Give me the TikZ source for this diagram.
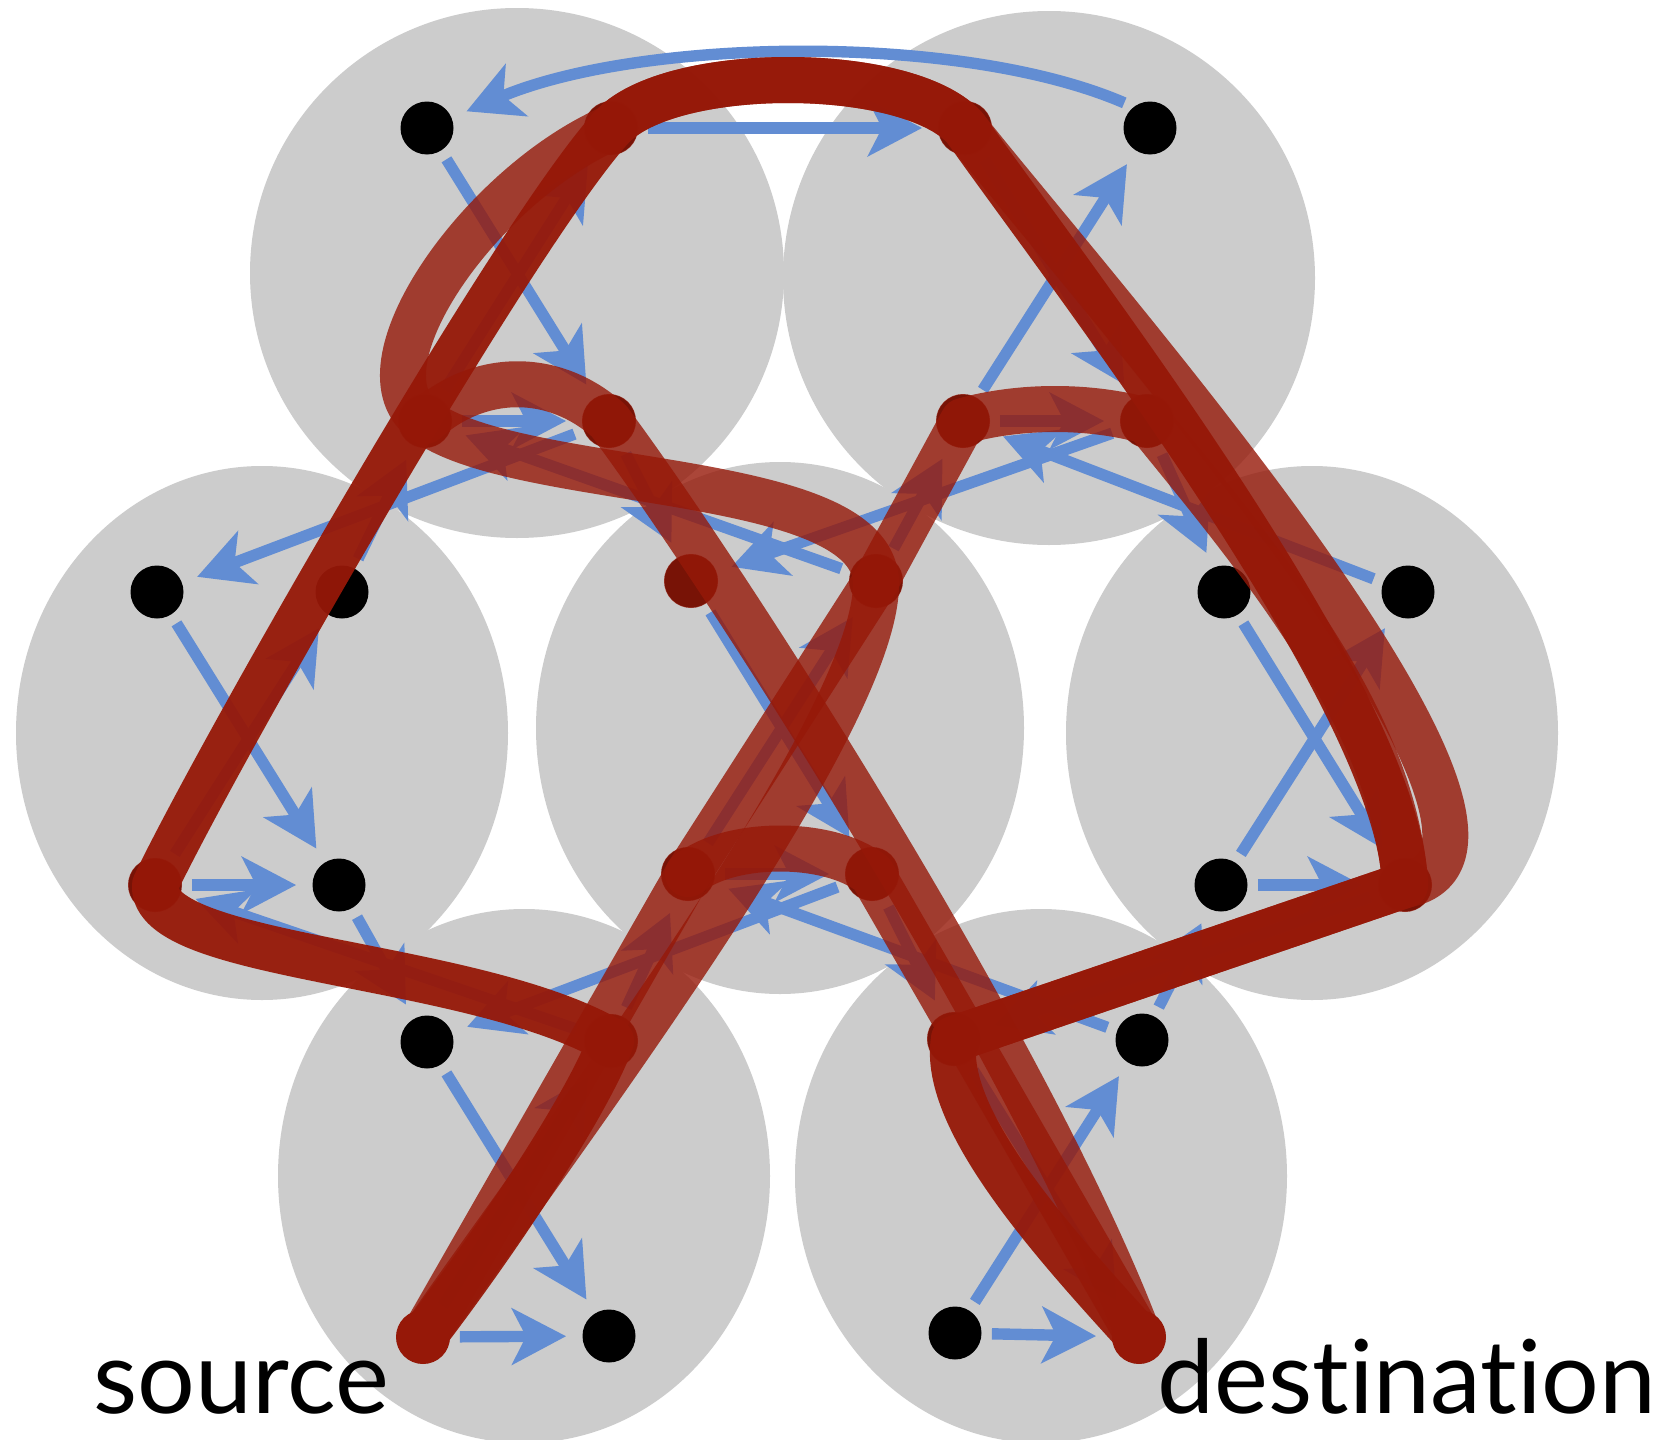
\documentclass[tikz,border=0pt]{standalone}
\usepackage{fontspec}
\setmainfont{Lato}[Ligatures=NoCommon]
\usetikzlibrary{arrows.meta}
\definecolor{cellgray}{RGB}{204,204,204}
\definecolor{linkblue}{RGB}{98,141,211}
\definecolor{routered}{RGB}{150,24,8}
\begin{document}
\begin{tikzpicture}[x=0.5pt,y=-0.5pt,
  cell/.style={fill=cellgray},
  dot/.style={circle,fill=black,inner sep=0pt,minimum size=26.5pt},
  link/.style={draw=linkblue,line width=5.7pt,shorten <=5pt,shorten >=8pt,
    -{Stealth[length=27pt,width=28pt,inset=7pt]}},
  route/.style={draw=routered,line width=23pt,line cap=round,line join=round},
  heavy/.style={route,opacity=0.95},
  light/.style={route,opacity=0.8},
  hop/.style={fill=routered,opacity=0.8},
  endpt/.style={fill=routered},
  word/.style={font=\fontsize{51pt}{51pt}\selectfont,anchor=base west,inner sep=0pt}
]
\useasboundingbox (0,0) rectangle (1662,1440);
\fill[white] (0,0) rectangle (1662,1440);

% switch cells
\fill[cell] (517,273)  ellipse [x radius=133.5pt, y radius=132.5pt];
\fill[cell] (1049,278) ellipse [x radius=133pt, y radius=133.5pt];
\fill[cell] (262,733)  ellipse [x radius=123pt, y radius=133.5pt];
\fill[cell] (780,728)  ellipse [x radius=122pt, y radius=133pt];
\fill[cell] (1312,733) ellipse [x radius=123pt, y radius=133.5pt];
\fill[cell] (524,1176) ellipse [x radius=123pt, y radius=133.5pt];
\fill[cell] (1041,1176) ellipse [x radius=123pt, y radius=133.5pt];

% ports: 1 = top left, 2 = top right, 3 = bottom left, 4 = bottom right
\node[dot] (a1) at (427,128) {};  \node[dot] (a2) at (611,128) {};
\node[dot] (a3) at (425,421) {};  \node[dot] (a4) at (609,421) {};
\node[dot] (b1) at (965,128) {};  \node[dot] (b2) at (1150,128) {};
\node[dot] (b3) at (963,421) {};  \node[dot] (b4) at (1147,421) {};
\node[dot] (c1) at (157,592) {};  \node[dot] (c2) at (342,592) {};
\node[dot] (c3) at (155,885) {};  \node[dot] (c4) at (339,885) {};
\node[dot] (d1) at (691,581) {};  \node[dot] (d2) at (876,581) {};
\node[dot] (d3) at (688,874) {};  \node[dot] (d4) at (872,874) {};
\node[dot] (e1) at (1224,592) {}; \node[dot] (e2) at (1408,592) {};
\node[dot] (e3) at (1221,885) {}; \node[dot] (e4) at (1405,885) {};
\node[dot] (f1) at (427,1042) {}; \node[dot] (f2) at (611,1041) {};
\node[dot] (f3) at (423,1337) {}; \node[dot] (f4) at (609,1336) {};
\node[dot] (g1) at (954,1039) {}; \node[dot] (g2) at (1142,1040) {};
\node[dot] (g3) at (955,1333) {}; \node[dot] (g4) at (1139,1337) {};

% links inside each cell
\foreach \s in {a,b,c,d,e,f,g}{
  \draw[link] (\s3) -- (\s4);
  \draw[link] (\s3) -- (\s2);
  \draw[link] (\s1) -- (\s4);
}
% links between cells
\draw[link] (a2) -- (b1);
\draw[link] (b2.128) .. controls (960,32) and (640,38) .. (a1);
\draw[link] (a4) -- (c1);
\draw[link] (a4) -- (d1);
\draw[link] (b4) -- (d1);
\draw[link] (b4) -- (e1);
\draw[link] (c4) -- (f1);
\draw[link] (d4) -- (f1);
\draw[link] (d4) -- (g1);
\draw[link] (e4) -- (g1);
\draw[link] (c2) -- (a3);
\draw[link] (d2) -- (a3);
\draw[link] (d2) -- (b3);
\draw[link] (e2) -- (b3);
\draw[link] (f2) -- (c3);
\draw[link] (f2) -- (d3);
\draw[link] (g2) -- (d3);
\draw[link] (g2) -- (e3);

% routes from source to destination
\draw[heavy] (f3.center) .. controls (490,1250) and (585,1110) .. (f2.center)
  .. controls (470,960) and (150,960) .. (c3.center)
  .. controls (220,750) and (511,240) .. (a2.center)
  .. controls (668,64) and (908,64) .. (b1.center)
  .. controls (1065,270) and (1400,700) .. (e4.center)
  -- (g1.center)
  .. controls (940,1120) and (1060,1250) .. (g4.center);
\draw[light] (f3.center) .. controls (560,1140) and (880,720) .. (d2.center)
  .. controls (870,470) and (520,490) .. (a3.center)
  .. controls (350,370) and (480,185) .. (a2.center)
  .. controls (668,64) and (908,64) .. (b1.center)
  .. controls (1085,280) and (1590,850) .. (e4.center)
  -- (g1.center);
\draw[light] (f3.center) -- (d3.center) -- (d2.center) -- (b3.center)
  .. controls (1020,405) and (1090,405) .. (b4.center)
  .. controls (1260,560) and (1395,720) .. (e4.center);
\draw[light] (a3.center) .. controls (480,372) and (555,372) .. (a4.center)
  .. controls (720,570) and (1030,1050) .. (g4.center);
\draw[light] (d3.center) .. controls (730,840) and (830,840) .. (d4.center)
  -- (g4.center);

% ports on the routes
\foreach \p in {f2,c3,a3,a2,b1,a4,b3,b4,d1,d2,d3,d4,e4,g1}
  \fill[hop] (\p) circle [radius=13.5pt];
\fill[endpt] (f3) circle [radius=13.5pt];
\fill[endpt] (g4) circle [radius=13.5pt];

\node[word] (src) at (93,1413) {source};
\node[word] (dst) at (1157,1413) {destination};
\end{tikzpicture}
\end{document}
